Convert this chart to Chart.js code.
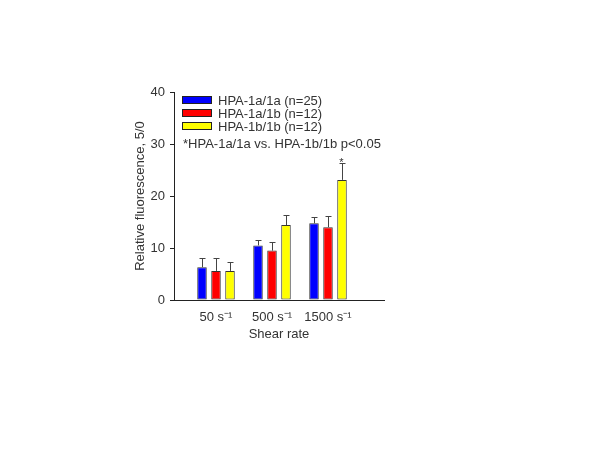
<!DOCTYPE html>
<html>
<head>
<meta charset="utf-8">
<script src="https://cdn.jsdelivr.net/npm/chart.js@4"></script>
<style>
html,body{margin:0;padding:0;background:#fff;}
#wrap{position:absolute;left:0;top:0;width:600px;height:450px;}
</style>
</head>
<body>
<div id="wrap"><canvas id="c" width="600" height="450"></canvas></div>
<script>
const categories = ['50 s\u207B\u00B9', '500 s\u207B\u00B9', '1500 s\u207B\u00B9'];
const categoryPos = [1, 2, 3];
const seriesLabels = ['HPA-1a/1a (n=25)', 'HPA-1a/1b (n=12)', 'HPA-1b/1b (n=12)'];
const seriesColors = ['#0000FF', '#FF0000', '#FFFF00'];
const meanA = [6.3, 10.5, 14.75];
const meanB = [5.6, 9.5, 14.0];
const meanC = [5.6, 14.4, 23.1];
const sdA = [1.7, 1.0, 1.25];
const sdB = [2.4, 1.6, 2.15];
const sdC = [1.65, 1.9, 3.2];
const yTicks = [0, 10, 20, 30, 40];
const noteText = '*HPA-1a/1a vs. HPA-1b/1b p<0.05';
const starIndex = 2;

const FONT = "'Liberation Sans', Arial, sans-serif";
const means = [meanA, meanB, meanC];
const sds = [sdA, sdB, sdC];

const datasets = means.map((m, d) => ({
  label: seriesLabels[d],
  data: m.map((v, i) => ({x: categoryPos[i], y: v})),
  sd: sds[d],
  backgroundColor: seriesColors[d],
  borderColor: '#333',
  borderWidth: 1,
  borderSkipped: false,
  categoryPercentage: 0.75,
  barPercentage: 0.68
}));

const errorPlugin = {
  id: 'errbars',
  afterDatasetsDraw(chart) {
    const ctx = chart.ctx;
    const ys = chart.scales.y;
    ctx.save();
    ctx.strokeStyle = '#444';
    ctx.lineWidth = 1;
    chart.data.datasets.forEach((ds, d) => {
      const meta = chart.getDatasetMeta(d);
      meta.data.forEach((el, i) => {
        const top = ys.getPixelForValue(ds.data[i].y + ds.sd[i]);
        const x = Math.round(el.x) + 0.5;
        ctx.beginPath();
        ctx.moveTo(x, el.y);
        ctx.lineTo(x, Math.round(top) + 0.5);
        ctx.moveTo(x - 3, Math.round(top) + 0.5);
        ctx.lineTo(x + 3, Math.round(top) + 0.5);
        ctx.stroke();
        if (d === 2 && i === starIndex) {
          ctx.fillStyle = '#333';
          ctx.font = '11px ' + FONT;
          ctx.textAlign = 'center';
          ctx.textBaseline = 'alphabetic';
          ctx.fillText('*', x - 1, top + 3);
        }
      });
    });
    ctx.restore();
  }
};

const legendPlugin = {
  id: 'inlegend',
  afterDraw(chart) {
    const ctx = chart.ctx;
    const a = chart.chartArea;
    ctx.save();
    ctx.font = '13px ' + FONT;
    ctx.textBaseline = 'middle';
    ctx.textAlign = 'left';
    chart.data.datasets.forEach((ds, d) => {
      const y = a.top + 8 + d * 13;
      ctx.fillStyle = ds.backgroundColor;
      ctx.fillRect(a.left + 8, y - 3, 29, 7);
      ctx.strokeStyle = '#222';
      ctx.lineWidth = 1;
      ctx.strokeRect(a.left + 8.5, y - 3.5, 29, 7);
      ctx.fillStyle = '#333';
      ctx.fillText(ds.label, a.left + 44, y + 1);
    });
    ctx.fillText(noteText, a.left + 9, a.top + 52);
    ctx.restore();
  }
};

new Chart(document.getElementById('c'), {
  type: 'bar',
  data: { datasets },
  options: {
    responsive: false,
    animation: false,
    layout: { padding: { left: 125, right: 216, top: 92, bottom: 105 } },
    plugins: { legend: { display: false }, tooltip: { enabled: false } },
    scales: {
      x: {
        type: 'linear',
        offset: false,
        min: 0.25,
        max: 4.0,
        afterBuildTicks(s) { s.ticks = categoryPos.map(v => ({value: v})); },
        afterFit(s) { s.height = 45; },
        grid: { display: false, drawTicks: false, offset: false },
        border: { display: true, color: '#222', width: 1 },
        ticks: {
          padding: 10,
          color: '#333',
          font: { family: FONT, size: 13 },
          maxRotation: 0,
          autoSkip: false,
          callback(v) { const i = categoryPos.indexOf(v); return i >= 0 ? categories[i] : ''; }
        },
        title: { display: true, text: 'Shear rate', color: '#333', font: { family: FONT, size: 13 }, padding: { top: 0, bottom: 3 } }
      },
      y: {
        min: 0,
        max: 40,
        afterBuildTicks(s) { s.ticks = yTicks.map(v => ({value: v})); },
        afterFit(s) { s.width = 49; },
        grid: { display: true, drawOnChartArea: false, drawTicks: true, tickLength: 4, color: '#222' },
        border: { display: true, color: '#222', width: 1 },
        ticks: { padding: 5, color: '#333', font: { family: FONT, size: 13 } },
        title: { display: true, text: 'Relative fluorescence, 5/0', color: '#333', font: { family: FONT, size: 13 }, padding: { top: 8, bottom: 0 } }
      }
    }
  },
  plugins: [errorPlugin, legendPlugin]
});
</script>
</body>
</html>
